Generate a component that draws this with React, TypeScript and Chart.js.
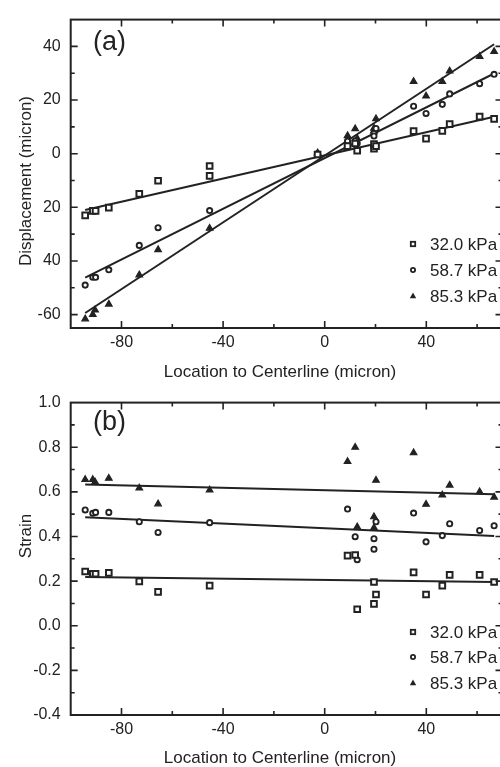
import React, { useEffect, useRef } from 'react';
import { Chart, registerables } from 'chart.js';

Chart.register(...registerables);

const FONT = "'Liberation Sans', Arial, Helvetica, sans-serif";
const INK = '#222';

// ---------- labels ----------
const seriesNames = ['32.0 kPa', '58.7 kPa', '85.3 kPa'];
const xTitle = 'Location to Centerline (micron)';
const yTitleA = 'Displacement (micron)';
const yTitleB = 'Strain';
const xTickValues = [-80, -40, 0, 40];
const xTickLabels = ['-80', '-40', '0', '40'];
const yTickValuesA = [40, 20, 0, -20, -40, -60];
const yTickLabelsA = ['40', '20', '0', '20', '40', '-60'];
const yTickValuesB = [1.0, 0.8, 0.6, 0.4, 0.2, 0.0, -0.2, -0.4];
const yTickLabelsB = ['1.0', '0.8', '0.6', '0.4', '0.2', '0.0', '-0.2', '-0.4'];

// ---------- panel (a): displacement ----------
const aX32 = [-94.3, -91.3, -90.2, -85.0, -73.0, -65.6, -45.3, -45.3, -2.8, 9.0, 12.0, 12.8, 19.4, 19.4, 20.2, 35.0, 39.9, 46.3, 49.2, 61.0, 66.7];
const aY32 = [-23.0, -21.3, -21.3, -20.1, -15.0, -10.1, -4.6, -8.3, -0.3, 2.8, 3.8, 1.1, 1.9, 3.6, 2.8, 8.4, 5.6, 8.5, 11.0, 13.8, 13.0];
const aX58 = [-94.3, -91.3, -90.2, -85.0, -73.0, -65.6, -45.3, -2.8, 9.0, 12.0, 12.8, 19.4, 19.4, 20.2, 35.0, 39.9, 46.3, 49.2, 61.0, 66.7];
const aY58 = [-49.0, -46.1, -46.1, -43.3, -34.2, -27.6, -21.2, 0.0, 4.7, 4.8, 3.8, 7.6, 6.6, 9.4, 17.7, 15.0, 18.4, 22.3, 26.1, 29.6];
const aX85 = [-94.3, -91.3, -90.4, -85.0, -73.0, -65.6, -45.3, -2.8, 9.0, 12.0, 12.8, 19.4, 19.4, 20.2, 35.0, 39.9, 46.3, 49.2, 61.0, 66.7];
const aY85 = [-61.6, -60.0, -58.3, -56.1, -45.2, -35.8, -27.8, 0.3, 6.7, 9.3, 5.7, 9.5, 8.5, 13.0, 26.9, 21.5, 26.9, 30.8, 36.2, 38.1];
const fitX = [-94.3, 66.7];
const aFit32 = [-21.0, 13.8];
const aFit58 = [-46.2, 29.9];
const aFit85 = [-59.4, 40.8];

// ---------- panel (b): strain ----------
const bX32 = [-94.3, -91.3, -90.2, -85.0, -73.0, -65.6, -45.3, 9.0, 12.0, 12.8, 19.4, 19.4, 20.2, 35.0, 39.9, 46.3, 49.2, 61.0, 66.7];
const bY32 = [0.243, 0.233, 0.233, 0.237, 0.199, 0.152, 0.180, 0.314, 0.317, 0.074, 0.196, 0.098, 0.140, 0.239, 0.140, 0.180, 0.228, 0.228, 0.196];
const bX58 = [-94.3, -91.3, -90.2, -85.0, -73.0, -65.6, -45.3, 9.0, 12.0, 12.8, 19.4, 19.4, 20.2, 35.0, 39.9, 46.3, 49.2, 61.0, 66.7];
const bY58 = [0.519, 0.504, 0.508, 0.508, 0.466, 0.418, 0.462, 0.523, 0.399, 0.296, 0.390, 0.343, 0.466, 0.505, 0.376, 0.404, 0.457, 0.427, 0.448];
const bX85 = [-94.3, -91.3, -90.4, -85.0, -73.0, -65.6, -45.3, 9.0, 12.0, 12.8, 19.4, 19.4, 20.2, 35.0, 39.9, 46.3, 49.2, 61.0, 66.7];
const bY85 = [0.655, 0.655, 0.644, 0.661, 0.617, 0.546, 0.608, 0.736, 0.800, 0.443, 0.488, 0.439, 0.652, 0.775, 0.544, 0.586, 0.630, 0.600, 0.576];
const bFit32 = [0.218, 0.196];
const bFit58 = [0.486, 0.402];
const bFit85 = [0.633, 0.589];

const zip = (xs: number[], ys: number[]) => xs.map((x, i) => ({ x, y: ys[i] }));

const markerStyles = [
  { pointStyle: 'rect', pointRadius: 4.0, pointBorderWidth: 2, pointBackgroundColor: '#fff' },
  { pointStyle: 'circle', pointRadius: 2.6, pointBorderWidth: 1.9, pointBackgroundColor: '#fff' },
  { pointStyle: 'triangle', pointRadius: 3.8, pointBorderWidth: 1.2, pointBackgroundColor: INK },
];

function labelFor(values: number[], labels: string[]) {
  return (v: any) => {
    const i = values.findIndex((t) => Math.abs(t - Number(v)) < 1e-6);
    return i >= 0 ? labels[i] : '';
  };
}

function drawMarker(ctx: CanvasRenderingContext2D, kind: number, x: number, y: number) {
  ctx.save();
  ctx.strokeStyle = INK;
  ctx.fillStyle = INK;
  ctx.lineWidth = 1.8;
  if (kind === 0) {
    ctx.strokeRect(x - 2.2, y - 2.2, 4.4, 4.4);
  } else if (kind === 1) {
    ctx.beginPath();
    ctx.arc(x, y, 2.1, 0, Math.PI * 2);
    ctx.stroke();
  } else {
    ctx.beginPath();
    ctx.moveTo(x, y - 3.4);
    ctx.lineTo(x + 3.2, y + 2.3);
    ctx.lineTo(x - 3.2, y + 2.3);
    ctx.closePath();
    ctx.fill();
  }
  ctx.restore();
}

type Deco = {
  panelLabel: string;
  panelLabelY: number;
  yTitle: string;
  yTitleY: number;
  xTitleY: number;
  legendY: number[];
};

function framePlugin(d: Deco) {
  return {
    id: 'frame',
    afterDraw(chart: any) {
      const { ctx, chartArea: ca } = chart;
      const xs = chart.scales.x;
      const ys = chart.scales.y;
      ctx.save();
      ctx.strokeStyle = INK;
      ctx.lineWidth = 2;
      ctx.strokeRect(ca.left, ca.top, ca.right - ca.left, ca.bottom - ca.top);
      ctx.lineWidth = 1.6;
      ctx.beginPath();
      xs.ticks.forEach((t: any) => {
        if (t.value <= xs.min || t.value >= xs.max) return;
        const px = xs.getPixelForValue(t.value);
        const len = t.label ? 7 : 4;
        ctx.moveTo(px, ca.bottom);
        ctx.lineTo(px, ca.bottom - len);
        ctx.moveTo(px, ca.top);
        ctx.lineTo(px, ca.top + len);
      });
      ys.ticks.forEach((t: any) => {
        if (t.value <= ys.min || t.value >= ys.max) return;
        const py = ys.getPixelForValue(t.value);
        const len = t.label ? 7 : 4;
        ctx.moveTo(ca.left, py);
        ctx.lineTo(ca.left + len, py);
        ctx.moveTo(ca.right, py);
        ctx.lineTo(ca.right - len, py);
      });
      ctx.stroke();

      // legend
      ctx.fillStyle = INK;
      ctx.font = `17px ${FONT}`;
      ctx.textBaseline = 'middle';
      ctx.textAlign = 'left';
      seriesNames.forEach((name, i) => {
        drawMarker(ctx, i, 413, d.legendY[i]);
        ctx.fillText(name, 430, d.legendY[i] + 1);
      });

      // x title
      ctx.textAlign = 'center';
      ctx.fillText(xTitle, 280, d.xTitleY);

      // y title
      ctx.save();
      ctx.translate(26, d.yTitleY);
      ctx.rotate(-Math.PI / 2);
      ctx.fillText(d.yTitle, 0, 0);
      ctx.restore();

      // panel label
      ctx.font = `27px ${FONT}`;
      ctx.textAlign = 'left';
      ctx.fillText(d.panelLabel, 93, d.panelLabelY);
      ctx.restore();
    },
  };
}

function buildConfig(
  series: { x: number[]; y: number[] }[],
  fits: number[][],
  yMin: number,
  yMax: number,
  yStep: number,
  yVals: number[],
  yLabels: string[],
  padTop: number,
  xAxisHeight: number,
  deco: Deco
): any {
  const datasets: any[] = [];
  series.forEach((s, i) => {
    datasets.push({
      label: seriesNames[i],
      data: zip(s.x, s.y),
      borderColor: INK,
      showLine: false,
      ...markerStyles[i],
    });
  });
  fits.forEach((f, i) => {
    datasets.push({
      label: seriesNames[i] + ' fit',
      data: zip(fitX, f),
      showLine: true,
      borderColor: INK,
      borderWidth: 2,
      pointRadius: 0,
      fill: false,
    });
  });
  const tickFont = { family: FONT, size: 16 };
  return {
    type: 'scatter',
    data: { datasets },
    options: {
      responsive: false,
      animation: false,
      events: [],
      layout: { padding: { top: padTop, right: 17.5, left: 0, bottom: 0 } },
      plugins: { legend: { display: false }, tooltip: { enabled: false }, title: { display: false } },
      scales: {
        x: {
          type: 'linear',
          position: 'bottom',
          min: -100,
          max: 70,
          grid: { display: false, drawTicks: false },
          border: { display: false },
          ticks: {
            stepSize: 20,
            includeBounds: false,
            autoSkip: false,
            maxRotation: 0,
            padding: 5,
            color: INK,
            font: tickFont,
            callback: labelFor(xTickValues, xTickLabels),
          },
          afterFit: (s: any) => {
            s.height = xAxisHeight;
          },
        },
        y: {
          type: 'linear',
          position: 'left',
          min: yMin,
          max: yMax,
          grid: { display: false, drawTicks: false },
          border: { display: false },
          ticks: {
            stepSize: yStep,
            includeBounds: false,
            autoSkip: false,
            padding: 10,
            color: INK,
            font: tickFont,
            callback: labelFor(yVals, yLabels),
          },
          afterFit: (s: any) => {
            s.width = 70.7;
          },
        },
      },
    },
    plugins: [framePlugin(deco)],
  };
}

export default function App() {
  const refA = useRef<HTMLCanvasElement>(null);
  const refB = useRef<HTMLCanvasElement>(null);

  useEffect(() => {
    const chartA = new Chart(
      refA.current as HTMLCanvasElement,
      buildConfig(
        [
          { x: aX32, y: aY32 },
          { x: aX58, y: aY58 },
          { x: aX85, y: aY85 },
        ],
        [aFit32, aFit58, aFit85],
        -65,
        50,
        10,
        yTickValuesA,
        yTickLabelsA,
        11.7,
        55,
        {
          panelLabel: '(a)',
          panelLabelY: 43,
          yTitle: yTitleA,
          yTitleY: 181,
          xTitleY: 372,
          legendY: [244, 270, 296],
        }
      )
    );
    const chartB = new Chart(
      refB.current as HTMLCanvasElement,
      buildConfig(
        [
          { x: bX32, y: bY32 },
          { x: bX58, y: bY58 },
          { x: bX85, y: bY85 },
        ],
        [bFit32, bFit58, bFit85],
        -0.4,
        1.0,
        0.1,
        yTickValuesB,
        yTickLabelsB,
        15,
        52,
        {
          panelLabel: '(b)',
          panelLabelY: 40,
          yTitle: yTitleB,
          yTitleY: 153,
          xTitleY: 375,
          legendY: [249, 274, 300],
        }
      )
    );
    return () => {
      chartA.destroy();
      chartB.destroy();
    };
  }, []);

  return (
    <div
      style={{
        position: 'fixed',
        left: 0,
        top: 0,
        width: 500,
        height: 767,
        overflow: 'hidden',
        background: '#fff',
      }}
    >
      <canvas
        ref={refA}
        width={520}
        height={383}
        style={{ position: 'absolute', left: 0, top: 0, width: 520, height: 383 }}
      />
      <canvas
        ref={refB}
        width={520}
        height={384}
        style={{ position: 'absolute', left: 0, top: 383, width: 520, height: 384 }}
      />
    </div>
  );
}
